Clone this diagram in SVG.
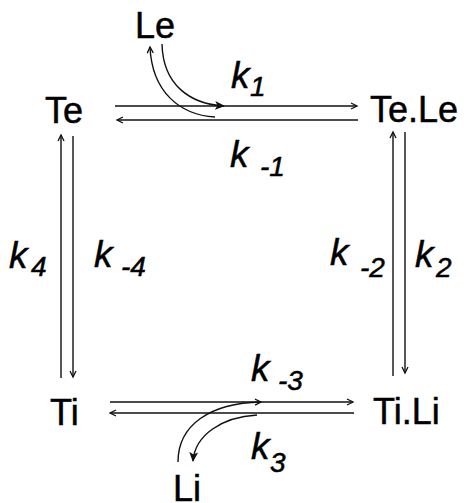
<svg xmlns="http://www.w3.org/2000/svg" width="469" height="503" viewBox="0 0 469 503">
<style>
.n{font-family:"Liberation Sans",Arial,sans-serif;font-size:36px;fill:#000;stroke:#000;stroke-width:0.5}
.k{font-family:"Liberation Sans",Arial,sans-serif;font-style:italic;font-size:37px;fill:#000;stroke:#000;stroke-width:0.5}
.s{font-size:28px}
.ln{stroke:#111;stroke-width:1.4;fill:none}
</style>
<defs>
<marker id="open" markerUnits="userSpaceOnUse" markerWidth="10" markerHeight="10" refX="7" refY="4" orient="auto">
<path d="M1,1 L7,4 L1,7" fill="none" stroke="#111" stroke-width="1.3"/>
</marker>
<marker id="fill" markerUnits="userSpaceOnUse" markerWidth="12" markerHeight="12" refX="9" refY="4.5" orient="auto">
<path d="M0,0 L10,4.5 L0,9 L2.5,4.5 Z" fill="#111"/>
</marker>
</defs>
<g id="connectors">
<line class="ln" x1="115" y1="106" x2="357" y2="106" marker-end="url(#open)"/>
<line class="ln" x1="358" y1="120" x2="117" y2="120" marker-end="url(#open)"/>
<line class="ln" x1="61" y1="378" x2="61" y2="135" marker-end="url(#open)"/>
<line class="ln" x1="73" y1="136" x2="73" y2="377" marker-end="url(#open)"/>
<line class="ln" x1="393" y1="376" x2="393" y2="132" marker-end="url(#open)"/>
<line class="ln" x1="405" y1="132" x2="405" y2="373" marker-end="url(#open)"/>
<line class="ln" x1="110" y1="402" x2="353" y2="402" marker-end="url(#open)"/>
<line class="ln" x1="354" y1="413" x2="110" y2="413" marker-end="url(#open)"/>
<path class="ln" d="M162,44 C163,85 190,104 224,106" marker-end="url(#fill)"/>
<path class="ln" d="M215,117 C180,115 152,92 150,47" marker-end="url(#open)"/>
<path class="ln" d="M178,462 C178,425 210,403 261,402" marker-end="url(#open)"/>
<path class="ln" d="M257,415 C222,417 195,435 193,461" marker-end="url(#fill)"/>
</g>
<g id="Le"><text class="n" x="135" y="38">Le</text></g>
<g id="Te"><text class="n" x="45" y="123">Te</text></g>
<g id="TeLe"><text class="n" x="370" y="122">Te.Le</text></g>
<g id="Ti"><text class="n" x="50" y="425">Ti</text></g>
<g id="TiLi"><text class="n" x="373" y="424">Ti.Li</text></g>
<g id="Li"><text class="n" x="173" y="501">Li</text></g>
<g id="labels">
<text class="k" x="231" y="88">k<tspan class="s" x="250" y="96">1</tspan></text>
<text class="k" x="230" y="167">k<tspan class="s" x="260" y="176">-1</tspan></text>
<text class="k" x="9" y="268">k<tspan class="s" x="31" y="276">4</tspan></text>
<text class="k" x="94" y="267">k<tspan class="s" x="121" y="276">-4</tspan></text>
<text class="k" x="330" y="265">k<tspan class="s" x="360" y="277">-2</tspan></text>
<text class="k" x="415" y="267">k<tspan class="s" x="436" y="277">2</tspan></text>
<text class="k" x="251" y="381">k<tspan class="s" x="278" y="390">-3</tspan></text>
<text class="k" x="251" y="459">k<tspan class="s" x="270" y="472">3</tspan></text>
</g>
</svg>
